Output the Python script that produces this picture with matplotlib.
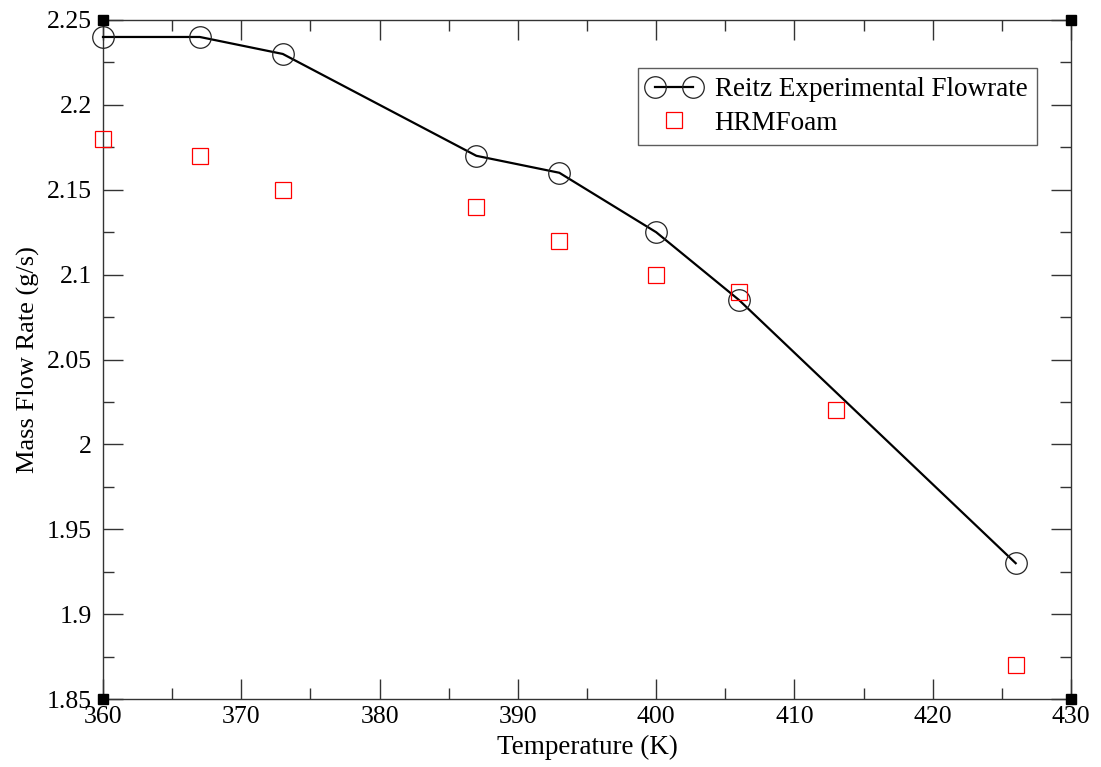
import matplotlib
matplotlib.use("Agg")
import matplotlib.pyplot as plt
from matplotlib.ticker import MultipleLocator
from matplotlib.legend_handler import HandlerLine2D

plt.rcParams['font.family'] = ['Liberation Serif', 'DejaVu Serif']

temp_exp = [360, 367, 373, 387, 393, 400, 406, 426]
flow_exp = [2.24, 2.24, 2.23, 2.17, 2.16, 2.125, 2.085, 1.93]
temp_sim = [360, 367, 373, 387, 393, 400, 406, 413, 426]
flow_sim = [2.18, 2.17, 2.15, 2.14, 2.12, 2.10, 2.09, 2.02, 1.87]

xticks = [360, 370, 380, 390, 400, 410, 420, 430]
yticks = [1.85, 1.9, 1.95, 2.0, 2.05, 2.1, 2.15, 2.2, 2.25]
ytick_labels = ['1.85', '1.9', '1.95', '2', '2.05', '2.1', '2.15', '2.2', '2.25']

fig = plt.figure(figsize=(11.01, 7.67), dpi=100)
ax = fig.add_axes([103/1101, 1-699/767, (1071-103)/1101, (699-20)/767])

l1, = ax.plot(temp_exp, flow_exp, color='black', lw=1.6, marker='o', ms=15.5,
              mfc='none', mec='#222222', mew=0.9, label='Reitz Experimental Flowrate',
              zorder=3, clip_on=False)
l2, = ax.plot(temp_sim, flow_sim, ls='none', marker='s', ms=12, mfc='none',
              mec='red', mew=0.9, label='HRMFoam', zorder=4, clip_on=False)

ax.set_xlim(360, 430)
ax.set_ylim(1.85, 2.25)
ax.xaxis.set_minor_locator(MultipleLocator(5))
ax.yaxis.set_minor_locator(MultipleLocator(0.025))
ax.set_xticks(xticks)
ax.set_xticklabels([str(v) for v in xticks])
ax.set_yticks(yticks)
ax.set_yticklabels(ytick_labels)

ax.tick_params(which='both', direction='in', top=True, right=True, color='#333333',
               labelsize=18.5, width=1.0)
ax.tick_params(which='major', length=14.5)
ax.tick_params(which='minor', length=8)
ax.tick_params(axis='x', which='major', pad=5)
ax.tick_params(axis='y', which='major', pad=8)
for s in ax.spines.values():
    s.set_color('#333333')
    s.set_linewidth(1.0)

ax.set_xlabel('Temperature (K)', fontsize=19.5, labelpad=5)
ax.set_ylabel('Mass Flow Rate (g/s)', fontsize=19, labelpad=5)

# corner markers (Grace style)
for cx, cy in [(0, 0), (0, 1), (1, 0), (1, 1)]:
    ax.plot([cx], [cy], marker='s', ms=7.5, color='black', transform=ax.transAxes,
            clip_on=False, zorder=5)

leg = ax.legend(loc='upper right', bbox_to_anchor=((1037-103)/968, (699-68)/679),
                fontsize=19.5, frameon=True, fancybox=False, numpoints=2,
                handlelength=2.0, borderpad=0.35, labelspacing=0.3,
                handletextpad=0.5, borderaxespad=0,
                handler_map={l2: HandlerLine2D(numpoints=1)})
leg.get_frame().set_edgecolor('#333333')
leg.get_frame().set_linewidth(1.0)

fig.savefig('out.png', dpi=100)
